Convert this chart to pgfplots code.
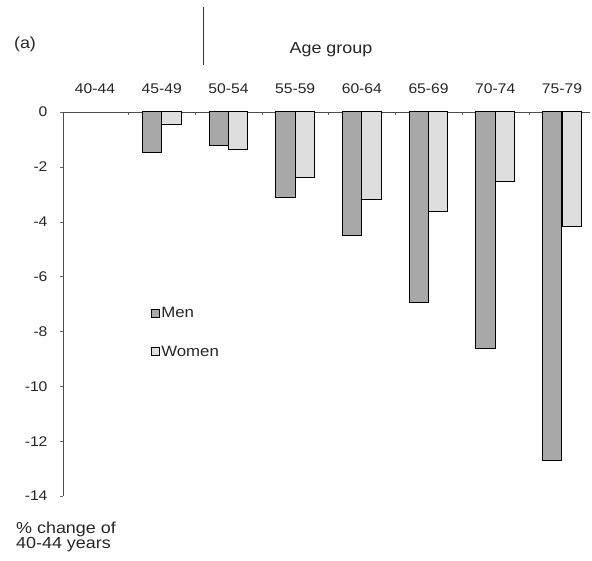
\documentclass[border=0pt]{standalone}
\usepackage{fontspec}
\setmainfont{Liberation Sans}[FakeStretch=1.12]
\usepackage{pgfplots}
\pgfplotsset{compat=1.18}
\definecolor{mencol}{gray}{0.66}
\definecolor{womencol}{gray}{0.87}
\begin{document}
\begin{tikzpicture}[x=1pt,y=1pt]
\begin{axis}[
  at={(63pt,64pt)}, anchor=south west,
  scale only axis, width=527pt, height=384pt,
  xmin=-0.48, xmax=7.42, ymin=-14, ymax=0,
  axis x line*=top, axis y line*=left,
  axis line style={black!70, line width=0.8pt},
  tick align=outside,
  xtick={0,...,7},
  xticklabels={40-44,45-49,50-54,55-59,60-64,65-69,70-74,75-79},
  x tick label style={font=\fontsize{14}{14}\selectfont, yshift=12pt, text=black!85},
  major x tick style={draw=none},
  minor xtick={0.5,1.5,...,6.5},
  minor x tick style={black!60, yshift=-3pt},
  minor tick length=3pt,
  ytick={0,-2,-4,-6,-8,-10,-12,-14},
  yticklabels={0,-2,-4,-6,-8,-10,-12,-14},
  y tick label style={font=\fontsize{14}{14}\selectfont, xshift=-9pt, text=black!85},
  major tick length=3pt,
  y tick style={black!60},
  legend style={draw=none, fill=none, at={(0.16,0.503)}, anchor=north west,
    font=\fontsize{15}{15}\selectfont, row sep=23pt, text=black!85},
  legend cell align=left,
]
\addplot[ybar, bar width=0.29, bar shift=-0.146, fill=mencol, draw=black, line width=1pt,
  legend image code/.code={\draw[fill=mencol,draw=black,line width=0.8pt] (0pt,-4pt) rectangle (8pt,4pt);}]
  coordinates {(1,-1.46) (2,-1.23) (3,-3.12) (4,-4.51) (5,-6.95) (6,-8.64) (7,-12.69)};
\addlegendentry{Men}
\addplot[ybar, bar width=0.29, bar shift=0.146, fill=womencol, draw=black, line width=1pt,
  legend image code/.code={\draw[fill=womencol,draw=black,line width=0.8pt] (0pt,-4pt) rectangle (8pt,4pt);}]
  coordinates {(1,-0.44) (2,-1.36) (3,-2.39) (4,-3.18) (5,-3.62) (6,-2.55) (7,-4.17)};
\addlegendentry{Women}
\end{axis}
\node[font=\fontsize{16}{16}\selectfont, text=black!85] at (25,516) {(a)};
\node[font=\fontsize{16}{16}\selectfont, anchor=base, text=black!85] at (331,506) {Age group};
\draw[line width=1pt, black!80] (203,553) -- (203,495);
\node[anchor=north west, align=left, inner sep=0pt, font=\fontsize{16}{15}\selectfont, text=black!85] at (16,38) {\% change of\\40-44 years};
\pgfresetboundingbox
\useasboundingbox (0,0) rectangle (592,560);
\end{tikzpicture}
\end{document}
